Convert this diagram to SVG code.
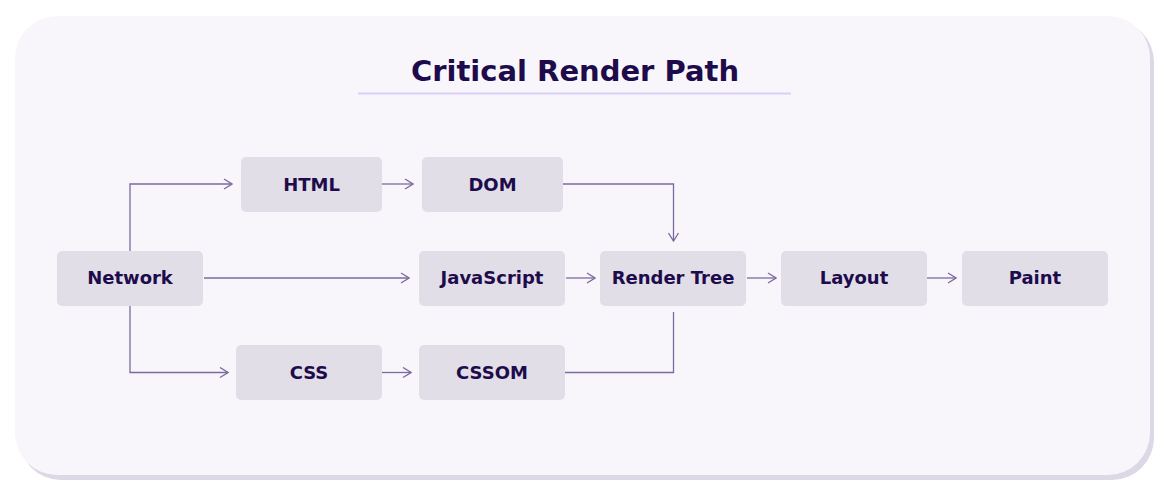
<svg xmlns="http://www.w3.org/2000/svg" width="1165" height="496" viewBox="0 0 1165 496">
<style>
.node rect{fill:#e1dee8}
.node text{font-family:"DejaVu Sans",sans-serif;font-weight:bold;font-size:18px;fill:#1e0b4b;text-anchor:middle}
.conn path{fill:none;stroke:#7b6a9f;stroke-width:1.3}
</style>
<defs>
<marker id="arr" viewBox="0 0 10 12" refX="9" refY="6" markerWidth="10" markerHeight="12" markerUnits="userSpaceOnUse" orient="auto">
<path d="M1,1 L9,6 L1,11" fill="none" stroke="#7b6a9f" stroke-width="1.3"/>
</marker>
</defs>
<rect width="1165" height="496" fill="#ffffff"/>
<rect x="19" y="20" width="1135" height="460" rx="42" fill="#dcd8e6"/>
<rect x="15" y="16" width="1135" height="459" rx="42" fill="#f8f6fa"/>
<g id="title">
<text x="575" y="81" font-family="DejaVu Sans,sans-serif" font-weight="bold" font-size="29" fill="#1e0b4b" text-anchor="middle">Critical Render Path</text>
<line x1="358" y1="93.5" x2="791" y2="93.5" stroke="#dacff9" stroke-width="2"/>
</g>
<g class="conn" id="connectors">
<path d="M130,251 V184 H232" marker-end="url(#arr)"/>
<path d="M130,306 V372.5 H228" marker-end="url(#arr)"/>
<path d="M204,278 H409" marker-end="url(#arr)"/>
<path d="M382,184 H413" marker-end="url(#arr)"/>
<path d="M382,372.5 H411" marker-end="url(#arr)"/>
<path d="M563,184 H673.5 V241" marker-end="url(#arr)"/>
<path d="M566,278 H595" marker-end="url(#arr)"/>
<path d="M565,372.5 H673.5 V312"/>
<path d="M747,278 H776" marker-end="url(#arr)"/>
<path d="M927,278 H956" marker-end="url(#arr)"/>
</g>
<g class="node" id="network"><rect x="57" y="251" width="146" height="55" rx="5"/><text x="130" y="283.5">Network</text></g>
<g class="node" id="html"><rect x="241" y="157" width="141" height="55" rx="5"/><text x="311.5" y="190.5">HTML</text></g>
<g class="node" id="dom"><rect x="422" y="157" width="141" height="55" rx="5"/><text x="492.5" y="190.5">DOM</text></g>
<g class="node" id="javascript"><rect x="419" y="251" width="146" height="55" rx="5"/><text x="492" y="283.5">JavaScript</text></g>
<g class="node" id="css"><rect x="236" y="345" width="146" height="55" rx="5"/><text x="309" y="378.5">CSS</text></g>
<g class="node" id="cssom"><rect x="419" y="345" width="146" height="55" rx="5"/><text x="492" y="378.5">CSSOM</text></g>
<g class="node" id="rendertree"><rect x="600" y="251" width="146" height="55" rx="5"/><text x="673" y="283.5">Render Tree</text></g>
<g class="node" id="layout"><rect x="781" y="251" width="146" height="55" rx="5"/><text x="854" y="283.5">Layout</text></g>
<g class="node" id="paint"><rect x="962" y="251" width="146" height="55" rx="5"/><text x="1035" y="283.5">Paint</text></g>
</svg>
